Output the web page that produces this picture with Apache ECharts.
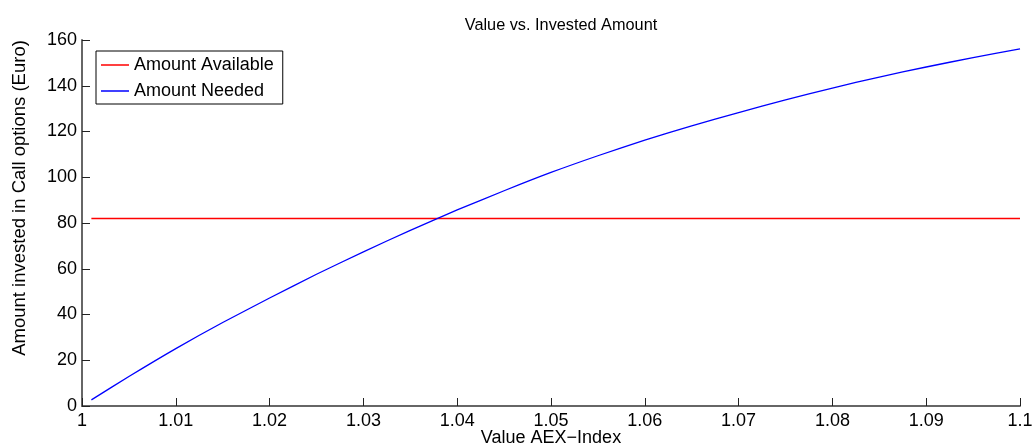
<!DOCTYPE html>
<html>
<head>
<meta charset="utf-8">
<title>Value vs. Invested Amount</title>
<script src="https://cdn.jsdelivr.net/npm/echarts@6/dist/echarts.min.js"></script>
<style>
  html, body { margin: 0; padding: 0; background: #fff; }
  #chart { width: 1033px; height: 448px; }
</style>
</head>
<body>
<div id="chart"></div>
<script>
// AEX index values (x) and amounts in euro (y)
const indexValues = [1.001, 1.005, 1.010, 1.015, 1.020, 1.025, 1.030, 1.035, 1.040, 1.045,
                     1.050, 1.055, 1.060, 1.065, 1.070, 1.075, 1.080, 1.085, 1.090, 1.095, 1.100];
const amountNeeded = [2.7, 12.9, 25.1, 36.5, 47.2, 57.6, 67.4, 76.8, 85.7, 94.1,
                      102.1, 109.4, 116.2, 122.5, 128.3, 133.8, 139.0, 143.8, 148.2, 152.3, 156.1];
const amountAvailable = 82;
const availableRange = [1.001, 1.100];

const seriesNames = ['Amount Available', 'Amount Needed'];
const xTickLabels = ['1', '1.01', '1.02', '1.03', '1.04', '1.05', '1.06', '1.07', '1.08', '1.09', '1.1'];
const yTickLabels = ['0', '20', '40', '60', '80', '100', '120', '140', '160'];

const FONT = '"Liberation Sans", Arial, Helvetica, sans-serif';
const chart = echarts.init(document.getElementById('chart'), null, { renderer: 'canvas' });

const neededData = indexValues.map((x, i) => [x, amountNeeded[i]]);
const availableData = availableRange.map(x => [x, amountAvailable]);

const axisCommon = {
  axisLine: { show: true, lineStyle: { color: '#666', width: 2 } },
  axisTick: { show: true, inside: true, length: 8, lineStyle: { color: '#222', width: 1 } },
  splitLine: { show: false }
};

chart.setOption({
  animation: false,
  backgroundColor: '#fff',
  title: {
    text: 'Value vs. Invested Amount',
    left: 556,
    top: 13,
    textAlign: 'center',
    textStyle: { fontFamily: FONT, fontSize: 16.3, fontWeight: 'normal', color: '#000' }
  },
  legend: {
    data: seriesNames,
    orient: 'vertical',
    left: 96,
    top: 51,
    padding: [5, 9, 4, 5],
    itemGap: 8,
    itemWidth: 28,
    itemHeight: 1.5,
    icon: 'rect',
    backgroundColor: '#fff',
    borderColor: '#000',
    borderWidth: 1,
    borderRadius: 0,
    textStyle: { fontFamily: FONT, fontSize: 18, color: '#000', lineHeight: 18 }
  },
  grid: { left: 82, right: 13, top: 40, bottom: 42, containLabel: false, outerBoundsMode: 'none' },
  xAxis: Object.assign({}, axisCommon, {
    type: 'value',
    min: 1.0,
    max: 1.1,
    interval: 0.01,
    name: 'Value AEX\u2212Index',
    nameLocation: 'middle',
    nameGap: 23,
    nameMoveOverlap: false,
    nameTextStyle: { fontFamily: FONT, fontSize: 18, color: '#000' },
    axisLabel: {
      fontFamily: FONT, fontSize: 18, color: '#000', margin: 6,
      formatter: (v) => xTickLabels[Math.round((v - 1.0) / 0.01)]
    }
  }),
  yAxis: Object.assign({}, axisCommon, {
    type: 'value',
    min: 0,
    max: 160,
    interval: 20,
    name: 'Amount invested in Call options (Euro)',
    nameLocation: 'middle',
    nameGap: 53,
    nameMoveOverlap: false,
    nameTextStyle: { fontFamily: FONT, fontSize: 18.5, color: '#000', padding: [0, 0, 0, 50] },
    axisLabel: {
      fontFamily: FONT, fontSize: 18, color: '#000', margin: 5,
      formatter: (v) => yTickLabels[Math.round(v / 20)]
    }
  }),
  series: [
    {
      name: seriesNames[0],
      type: 'line',
      data: availableData,
      symbol: 'none',
      lineStyle: { color: '#ff0000', width: 1.5 },
      itemStyle: { color: '#ff0000' }
    },
    {
      name: seriesNames[1],
      type: 'line',
      data: neededData,
      symbol: 'none',
      smooth: 0.2,
      lineStyle: { color: '#0000ff', width: 1.3 },
      itemStyle: { color: '#0000ff' }
    }
  ]
});
</script>
</body>
</html>
